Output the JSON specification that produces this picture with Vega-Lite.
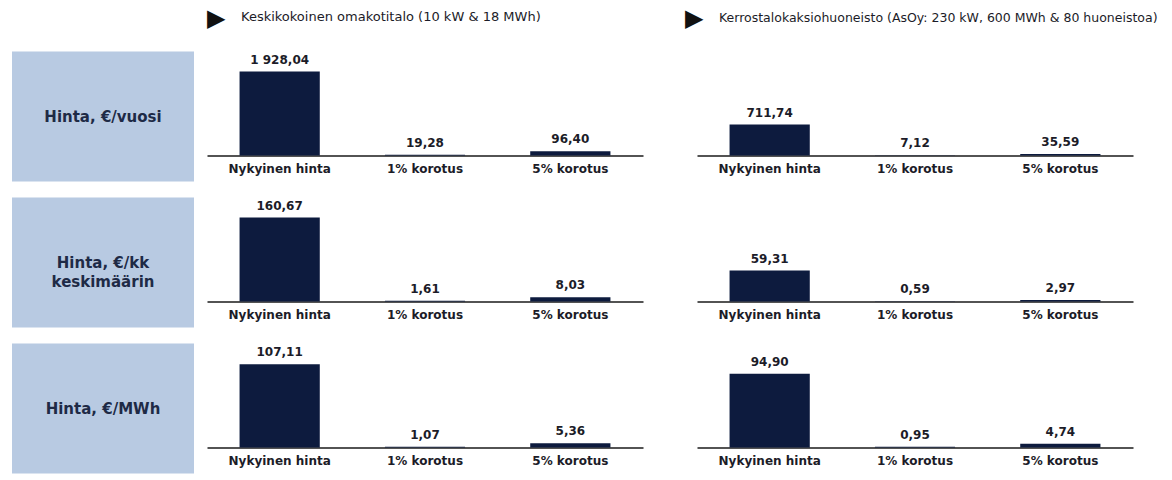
{
  "$schema": "https://vega.github.io/schema/vega-lite/v6.json",
  "padding": {"left": 12, "top": 6, "right": 0, "bottom": 0},
  "background": "#ffffff",
  "datasets": {
    "hinnat": [
      {"mittari": "vuosi", "talo": "omakotitalo", "vaihtoehto": "Nykyinen hinta", "arvo": 1928.04},
      {"mittari": "vuosi", "talo": "omakotitalo", "vaihtoehto": "1% korotus", "arvo": 19.28},
      {"mittari": "vuosi", "talo": "omakotitalo", "vaihtoehto": "5% korotus", "arvo": 96.40},
      {"mittari": "vuosi", "talo": "kerrostalo", "vaihtoehto": "Nykyinen hinta", "arvo": 711.74},
      {"mittari": "vuosi", "talo": "kerrostalo", "vaihtoehto": "1% korotus", "arvo": 7.12},
      {"mittari": "vuosi", "talo": "kerrostalo", "vaihtoehto": "5% korotus", "arvo": 35.59},
      {"mittari": "kk", "talo": "omakotitalo", "vaihtoehto": "Nykyinen hinta", "arvo": 160.67},
      {"mittari": "kk", "talo": "omakotitalo", "vaihtoehto": "1% korotus", "arvo": 1.61},
      {"mittari": "kk", "talo": "omakotitalo", "vaihtoehto": "5% korotus", "arvo": 8.03},
      {"mittari": "kk", "talo": "kerrostalo", "vaihtoehto": "Nykyinen hinta", "arvo": 59.31},
      {"mittari": "kk", "talo": "kerrostalo", "vaihtoehto": "1% korotus", "arvo": 0.59},
      {"mittari": "kk", "talo": "kerrostalo", "vaihtoehto": "5% korotus", "arvo": 2.97},
      {"mittari": "MWh", "talo": "omakotitalo", "vaihtoehto": "Nykyinen hinta", "arvo": 107.11},
      {"mittari": "MWh", "talo": "omakotitalo", "vaihtoehto": "1% korotus", "arvo": 1.07},
      {"mittari": "MWh", "talo": "omakotitalo", "vaihtoehto": "5% korotus", "arvo": 5.36},
      {"mittari": "MWh", "talo": "kerrostalo", "vaihtoehto": "Nykyinen hinta", "arvo": 94.90},
      {"mittari": "MWh", "talo": "kerrostalo", "vaihtoehto": "1% korotus", "arvo": 0.95},
      {"mittari": "MWh", "talo": "kerrostalo", "vaihtoehto": "5% korotus", "arvo": 4.74}
    ]
  },
  "spacing": 7.5,
  "vconcat": [
    {
      "spacing": 13,
      "hconcat": [
        {"width": 182, "height": 1, "mark": {"type": "rule", "opacity": 0}, "encoding": {"y": {"datum": 0, "type": "quantitative", "scale": {"domain": [0, 1]}, "axis": null}}},
        {"width": 21, "height": 1, "title": {"text": "▶", "fontSize": 24, "offset": 12.5, "color": "#111111"}, "mark": {"type": "rule", "opacity": 0}, "encoding": {"y": {"datum": 0, "type": "quantitative", "scale": {"domain": [0, 1]}, "axis": null}}},
        {"width": 431, "height": 1, "title": {"text": "Keskikokoinen omakotitalo (10 kW & 18 MWh)", "fontSize": 13, "offset": 19, "color": "#1c1c28"}, "mark": {"type": "rule", "opacity": 0}, "encoding": {"y": {"datum": 0, "type": "quantitative", "scale": {"domain": [0, 1]}, "axis": null}}},
        {"width": 21, "height": 1, "title": {"text": "▶", "fontSize": 24, "offset": 12.5, "color": "#111111"}, "mark": {"type": "rule", "opacity": 0}, "encoding": {"y": {"datum": 0, "type": "quantitative", "scale": {"domain": [0, 1]}, "axis": null}}},
        {"width": 430, "height": 1, "title": {"text": "Kerrostalokaksiohuoneisto (AsOy: 230 kW, 600 MWh & 80 huoneistoa)", "fontSize": 12.5, "offset": 19, "color": "#1c1c28"}, "mark": {"type": "rule", "opacity": 0}, "encoding": {"y": {"datum": 0, "type": "quantitative", "scale": {"domain": [0, 1]}, "axis": null}}}
      ]
    },
    {
      "spacing": 13,
      "hconcat": [
        {
          "width": 182, "height": 130,
          "view": {"fill": "#b8cae2", "stroke": null},
          "data": {"values": [{"nimi": "Hinta, €/vuosi"}]},
          "mark": {"type": "text", "align": "center", "baseline": "middle", "fontSize": 15, "fontWeight": "bold", "font": "DejaVu Sans", "color": "#1e2a46", "lineBreak": "\n", "lineHeight": 19},
          "encoding": {"text": {"field": "nimi"}}
        },
        {
          "width": 436, "height": 104,
          "data": {"name": "hinnat"},
          "transform": [{"filter": "datum.mittari === 'vuosi' && datum.talo === 'omakotitalo'"}],
          "encoding": {
            "x": {"field": "vaihtoehto", "type": "nominal", "sort": ["Nykyinen hinta", "1% korotus", "5% korotus"], "scale": {"paddingInner": 0.448, "paddingOuter": 0.224}, "title": null},
            "y": {"field": "arvo", "type": "quantitative", "scale": {"domain": [0, 2390], "nice": false}, "axis": null}
          },
          "layer": [
            {"mark": {"type": "bar", "color": "#0d1b3e"}},
            {"mark": {"type": "text", "baseline": "bottom", "dy": -5, "fontSize": 12, "fontWeight": "bold", "font": "DejaVu Sans", "color": "#1c1c28"}, "encoding": {"text": {"field": "arvo", "type": "quantitative", "format": ",.2f"}}}
          ]
        },
        {"width": 28, "height": 104, "mark": {"type": "rule", "opacity": 0}, "encoding": {"y": {"datum": 0, "type": "quantitative", "scale": {"domain": [0, 1]}, "axis": null}}},
        {
          "width": 436, "height": 104,
          "data": {"name": "hinnat"},
          "transform": [{"filter": "datum.mittari === 'vuosi' && datum.talo === 'kerrostalo'"}],
          "encoding": {
            "x": {"field": "vaihtoehto", "type": "nominal", "sort": ["Nykyinen hinta", "1% korotus", "5% korotus"], "scale": {"paddingInner": 0.448, "paddingOuter": 0.224}, "title": null},
            "y": {"field": "arvo", "type": "quantitative", "scale": {"domain": [0, 2390], "nice": false}, "axis": null}
          },
          "layer": [
            {"mark": {"type": "bar", "color": "#0d1b3e"}},
            {"mark": {"type": "text", "baseline": "bottom", "dy": -5, "fontSize": 12, "fontWeight": "bold", "font": "DejaVu Sans", "color": "#1c1c28"}, "encoding": {"text": {"field": "arvo", "type": "quantitative", "format": ",.2f"}}}
          ]
        }
      ]
    },
    {
      "spacing": 13,
      "hconcat": [
        {"width": 182, "height": 1, "mark": {"type": "rule", "opacity": 0}, "encoding": {"y": {"datum": 0, "type": "quantitative", "scale": {"domain": [0, 1]}, "axis": null}}},
        {"width": 965, "height": 1, "mark": {"type": "rule", "color": "#b5b5b5", "strokeWidth": 1, "strokeDash": [5, 4]}, "encoding": {"y": {"datum": 0, "type": "quantitative", "scale": {"domain": [0, 1]}, "axis": null}}}
      ]
    },
    {
      "spacing": 13,
      "hconcat": [
        {
          "width": 182, "height": 130,
          "view": {"fill": "#b8cae2", "stroke": null},
          "data": {"values": [{"nimi": "Hinta, €/kk\nkeskimäärin"}]},
          "mark": {"type": "text", "align": "center", "baseline": "middle", "fontSize": 15, "fontWeight": "bold", "font": "DejaVu Sans", "color": "#1e2a46", "lineBreak": "\n", "lineHeight": 19},
          "encoding": {"text": {"field": "nimi"}}
        },
        {
          "width": 436, "height": 104,
          "data": {"name": "hinnat"},
          "transform": [{"filter": "datum.mittari === 'kk' && datum.talo === 'omakotitalo'"}],
          "encoding": {
            "x": {"field": "vaihtoehto", "type": "nominal", "sort": ["Nykyinen hinta", "1% korotus", "5% korotus"], "scale": {"paddingInner": 0.448, "paddingOuter": 0.224}, "title": null},
            "y": {"field": "arvo", "type": "quantitative", "scale": {"domain": [0, 199], "nice": false}, "axis": null}
          },
          "layer": [
            {"mark": {"type": "bar", "color": "#0d1b3e"}},
            {"mark": {"type": "text", "baseline": "bottom", "dy": -5, "fontSize": 12, "fontWeight": "bold", "font": "DejaVu Sans", "color": "#1c1c28"}, "encoding": {"text": {"field": "arvo", "type": "quantitative", "format": ",.2f"}}}
          ]
        },
        {"width": 28, "height": 104, "mark": {"type": "rule", "opacity": 0}, "encoding": {"y": {"datum": 0, "type": "quantitative", "scale": {"domain": [0, 1]}, "axis": null}}},
        {
          "width": 436, "height": 104,
          "data": {"name": "hinnat"},
          "transform": [{"filter": "datum.mittari === 'kk' && datum.talo === 'kerrostalo'"}],
          "encoding": {
            "x": {"field": "vaihtoehto", "type": "nominal", "sort": ["Nykyinen hinta", "1% korotus", "5% korotus"], "scale": {"paddingInner": 0.448, "paddingOuter": 0.224}, "title": null},
            "y": {"field": "arvo", "type": "quantitative", "scale": {"domain": [0, 199], "nice": false}, "axis": null}
          },
          "layer": [
            {"mark": {"type": "bar", "color": "#0d1b3e"}},
            {"mark": {"type": "text", "baseline": "bottom", "dy": -5, "fontSize": 12, "fontWeight": "bold", "font": "DejaVu Sans", "color": "#1c1c28"}, "encoding": {"text": {"field": "arvo", "type": "quantitative", "format": ",.2f"}}}
          ]
        }
      ]
    },
    {
      "spacing": 13,
      "hconcat": [
        {"width": 182, "height": 1, "mark": {"type": "rule", "opacity": 0}, "encoding": {"y": {"datum": 0, "type": "quantitative", "scale": {"domain": [0, 1]}, "axis": null}}},
        {"width": 965, "height": 1, "mark": {"type": "rule", "color": "#b5b5b5", "strokeWidth": 1, "strokeDash": [5, 4]}, "encoding": {"y": {"datum": 0, "type": "quantitative", "scale": {"domain": [0, 1]}, "axis": null}}}
      ]
    },
    {
      "spacing": 13,
      "hconcat": [
        {
          "width": 182, "height": 130,
          "view": {"fill": "#b8cae2", "stroke": null},
          "data": {"values": [{"nimi": "Hinta, €/MWh"}]},
          "mark": {"type": "text", "align": "center", "baseline": "middle", "fontSize": 15, "fontWeight": "bold", "font": "DejaVu Sans", "color": "#1e2a46", "lineBreak": "\n", "lineHeight": 19},
          "encoding": {"text": {"field": "nimi"}}
        },
        {
          "width": 436, "height": 104,
          "data": {"name": "hinnat"},
          "transform": [{"filter": "datum.mittari === 'MWh' && datum.talo === 'omakotitalo'"}],
          "encoding": {
            "x": {"field": "vaihtoehto", "type": "nominal", "sort": ["Nykyinen hinta", "1% korotus", "5% korotus"], "scale": {"paddingInner": 0.448, "paddingOuter": 0.224}, "title": null},
            "y": {"field": "arvo", "type": "quantitative", "scale": {"domain": [0, 134], "nice": false}, "axis": null}
          },
          "layer": [
            {"mark": {"type": "bar", "color": "#0d1b3e"}},
            {"mark": {"type": "text", "baseline": "bottom", "dy": -5, "fontSize": 12, "fontWeight": "bold", "font": "DejaVu Sans", "color": "#1c1c28"}, "encoding": {"text": {"field": "arvo", "type": "quantitative", "format": ",.2f"}}}
          ]
        },
        {"width": 28, "height": 104, "mark": {"type": "rule", "opacity": 0}, "encoding": {"y": {"datum": 0, "type": "quantitative", "scale": {"domain": [0, 1]}, "axis": null}}},
        {
          "width": 436, "height": 104,
          "data": {"name": "hinnat"},
          "transform": [{"filter": "datum.mittari === 'MWh' && datum.talo === 'kerrostalo'"}],
          "encoding": {
            "x": {"field": "vaihtoehto", "type": "nominal", "sort": ["Nykyinen hinta", "1% korotus", "5% korotus"], "scale": {"paddingInner": 0.448, "paddingOuter": 0.224}, "title": null},
            "y": {"field": "arvo", "type": "quantitative", "scale": {"domain": [0, 134], "nice": false}, "axis": null}
          },
          "layer": [
            {"mark": {"type": "bar", "color": "#0d1b3e"}},
            {"mark": {"type": "text", "baseline": "bottom", "dy": -5, "fontSize": 12, "fontWeight": "bold", "font": "DejaVu Sans", "color": "#1c1c28"}, "encoding": {"text": {"field": "arvo", "type": "quantitative", "format": ",.2f"}}}
          ]
        }
      ]
    }
  ],
  "config": {
    "locale": {"number": {"decimal": ",", "thousands": " ", "grouping": [3], "currency": ["", " €"]}},
    "view": {"stroke": null},
    "font": "DejaVu Sans",
    "axisX": {"orient": "bottom", "ticks": false, "domainColor": "#1a1a1a", "domainWidth": 1.5, "labelFontSize": 12, "labelFontWeight": "bold", "labelPadding": 8, "labelColor": "#1c1c28", "labelAngle": 0, "labelFont": "DejaVu Sans"},
    "title": {"anchor": "start", "frame": "group", "fontWeight": "normal", "font": "DejaVu Sans"}
  }
}
